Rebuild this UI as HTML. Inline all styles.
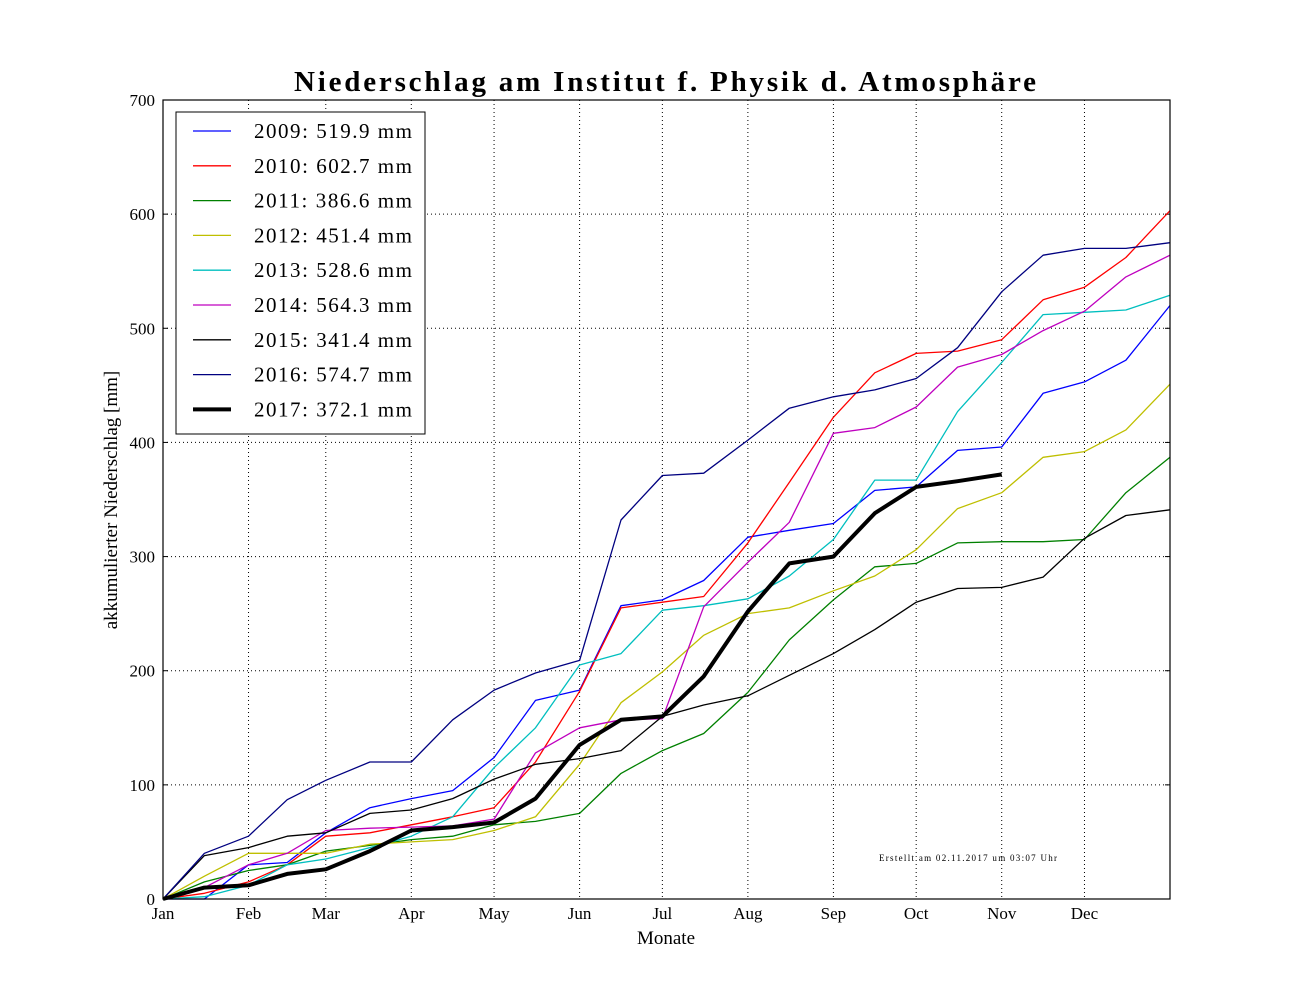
<!DOCTYPE html>
<html><head><meta charset="utf-8"><style>
body{margin:0;background:#fff;}
svg text{font-family:"Liberation Serif",serif;}
</style></head><body>
<svg id="chart" width="1300" height="1000" xmlns="http://www.w3.org/2000/svg"></svg>
<script>
const days = [0,15,31,45,59,75,90,105,120,135,151,166,181,196,212,227,243,258,273,288,304,319,334,349,365];
const monthLabels = ["Jan","Feb","Mar","Apr","May","Jun","Jul","Aug","Sep","Oct","Nov","Dec"];
const monthStarts = [0,31,59,90,120,151,181,212,243,273,304,334];
const yTicks = [0,100,200,300,400,500,600,700];
const years = ["2009","2010","2011","2012","2013","2014","2015","2016","2017"];
const totals = ["519.9","602.7","386.6","451.4","528.6","564.3","341.4","574.7","372.1"];
const s2009 = [0,0,30,32,58,80,88,95,124,174,183,257,262,279,317,323,329,358,361,393,396,443,453,472,520];
const s2010 = [0,5,15,30,55,58,65,72,80,120,182,255,260,265,312,365,422,461,478,480,490,525,536,562,603];
const s2011 = [0,15,25,30,42,47,52,55,65,68,75,110,130,145,181,227,262,291,294,312,313,313,315,356,387];
const s2012 = [0,20,40,40,40,48,50,52,60,72,118,172,199,231,250,255,270,283,306,342,356,387,392,411,451];
const s2013 = [0,2,12,30,35,45,55,72,115,150,205,215,253,257,263,283,315,367,367,427,470,512,514,516,529];
const s2014 = [0,10,30,40,60,62,63,64,70,128,150,157,158,256,295,330,408,413,431,466,477,498,515,545,564];
const s2015 = [0,38,45,55,58,75,78,88,105,118,123,130,160,170,178,196,215,236,260,272,273,282,316,336,341];
const s2016 = [0,40,55,87,104,120,120,157,183,198,209,332,371,373,402,430,440,446,456,483,532,564,570,570,575];
const s2017 = [0,10,12,22,26,42,60,63,67,88,135,157,160,195,252,294,300,338,361,366,372];
const series = [s2009,s2010,s2011,s2012,s2013,s2014,s2015,s2016,s2017];
const colors = ["#0000ff","#ff0000","#008000","#bfbf00","#00bfbf","#bf00bf","#000000","#000080","#000000"];

const X0=163,X1=1170,Y0=899,Y1=100;
const xs = d => X0 + d/365*(X1-X0);
const ys = v => Y0 - v/700*(Y0-Y1);
const svg = document.getElementById('chart');
const NS="http://www.w3.org/2000/svg";
function mk(tag, attrs, parent){const e=document.createElementNS(NS,tag);for(const k in attrs)e.setAttribute(k,attrs[k]);(parent||svg).appendChild(e);return e;}

for(const t of yTicks){ if(t>0&&t<700){const g=mk('line',{x1:X0,x2:X1,y1:ys(t),y2:ys(t),stroke:'#000','stroke-dasharray':'1,3','stroke-width':1});

}
 const l=mk('text',{x:X0-8,y:ys(t)+6,'text-anchor':'end','font-size':17});l.textContent=t;
 
 
 mk('line',{x1:X0,x2:X0+5,y1:ys(t),y2:ys(t),stroke:'#000'});mk('line',{x1:X1,x2:X1-5,y1:ys(t),y2:ys(t),stroke:'#000'});}
monthStarts.forEach((d,i)=>{ if(i>0){const g=mk('line',{x1:xs(d),x2:xs(d),y1:Y1,y2:Y0,stroke:'#000','stroke-dasharray':'1,3','stroke-width':1});

}
 const l=mk('text',{x:xs(d),y:Y0+20,'text-anchor':'middle','font-size':17});l.textContent=monthLabels[i];
 
 });

series.forEach((arr,i)=>{
 const pts=arr.map((v,j)=>xs(days[j]).toFixed(1)+','+ys(v).toFixed(1)).join(' ');
 const p=mk('polyline',{points:pts,fill:'none',stroke:colors[i],'stroke-width':i===8?4:1.3,'stroke-linejoin':'round'});
 
 
});

const fr=mk('rect',{x:X0,y:Y1,width:X1-X0,height:Y0-Y1,fill:'none',stroke:'#000','stroke-width':1.2});



const lg=mk('g',{});


mk('rect',{x:176,y:112,width:249,height:322,fill:'#fff',stroke:'#000','stroke-width':1},lg);
years.forEach((y,i)=>{
 const yy=131+i*34.8;
 const ent=mk('g',{},lg);
 
 
 mk('line',{x1:193,x2:231,y1:yy,y2:yy,stroke:colors[i],'stroke-width':i===8?4:1.3},ent);
 const t=mk('text',{x:254,y:yy+7,'font-size':21,textLength:158,lengthAdjust:'spacing'},ent);
 t.textContent=y+':  '+totals[i]+' mm';
 t.setAttribute('xml:space','preserve');
});

const ti=mk('text',{x:294,y:91,'font-size':29,'font-weight':'bold',textLength:742,lengthAdjust:'spacing'});
ti.textContent='Niederschlag am Institut f.  Physik d.  Atmosphäre';


const xt=mk('text',{x:666,y:944,'text-anchor':'middle','font-size':19});
xt.textContent='Monate';


const yt=mk('text',{x:117,y:500,'text-anchor':'middle','font-size':19,transform:'rotate(-90 117 500)'});
yt.textContent='akkumulierter Niederschlag [mm]';


const cr=mk('text',{x:879,y:861,'font-size':9,textLength:178,lengthAdjust:'spacing'});
cr.textContent='Erstellt am 02.11.2017 um 03:07 Uhr';


</script>
</body></html>
